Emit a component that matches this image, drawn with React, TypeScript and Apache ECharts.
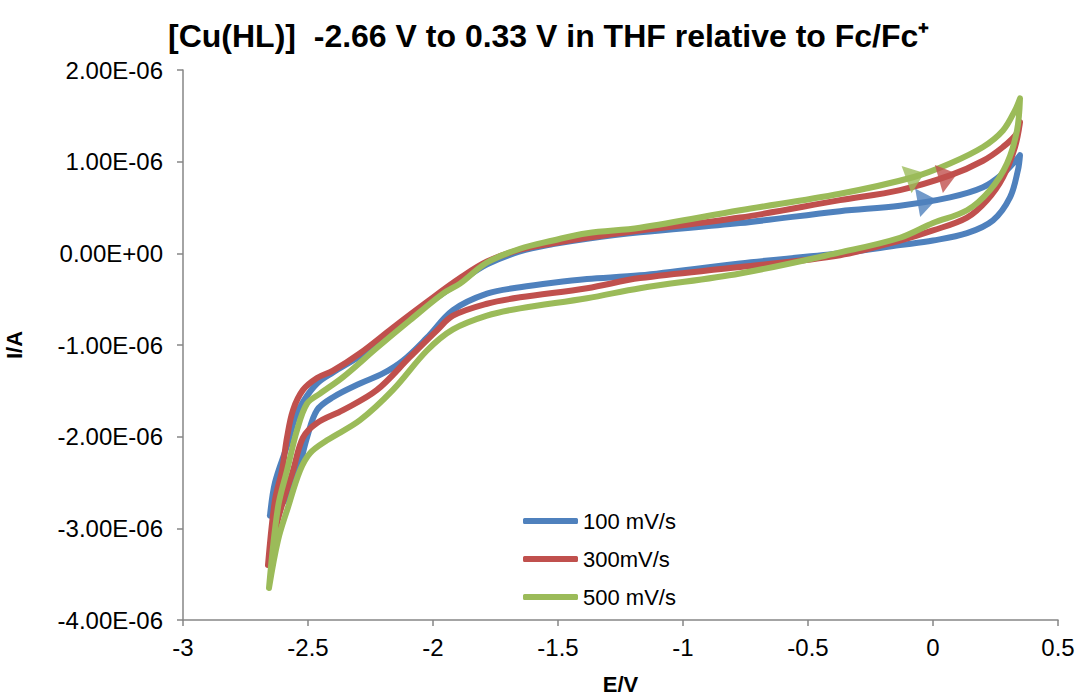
import React, { useEffect, useRef } from "react";
import * as echarts from "echarts";

// Cyclic voltammograms of [Cu(HL)] in THF, potential vs Fc/Fc+ (V), current in µA.
// Each loop starts at the cathodic limit, sweeps anodically to the upper limit and returns.

const E100 = [-2.652, -2.632, -2.584, -2.552, -2.52, -2.464, -2.4, -2.292, -2.16, -2.024, -1.892, -1.784, -1.652, -1.52, -1.384, -1.172, -0.772, -0.372, -0.132, 0.068, 0.2, 0.28, 0.336, 0.348,
  0.34, 0.308, 0.24, 0.136, 0.0, -0.132, -0.372, -0.772, -1.172, -1.384, -1.52, -1.652, -1.784, -1.92, -2.024, -2.12, -2.2, -2.292, -2.4, -2.464, -2.504, -2.54, -2.592, -2.652];
const I100 = [-2.86, -2.5, -2.1, -1.8, -1.62, -1.42, -1.3, -1.12, -0.86, -0.56, -0.31, -0.12, 0.02, 0.1, 0.16, 0.23, 0.33, 0.46, 0.52, 0.61, 0.72, 0.87, 1.03, 1.07,
  0.91, 0.61, 0.36, 0.22, 0.14, 0.09, 0.0, -0.11, -0.24, -0.28, -0.32, -0.37, -0.44, -0.62, -0.92, -1.17, -1.31, -1.42, -1.57, -1.71, -2.01, -2.37, -2.69, -2.86];

const E300 = [-2.66, -2.632, -2.604, -2.584, -2.56, -2.52, -2.464, -2.4, -2.292, -2.16, -2.024, -1.892, -1.784, -1.652, -1.52, -1.384, -1.172, -0.772, -0.372, -0.132, 0.068, 0.2, 0.28, 0.336, 0.348,
  0.328, 0.28, 0.216, 0.136, 0.0, -0.132, -0.372, -0.772, -1.172, -1.384, -1.652, -1.784, -1.92, -1.984, -2.092, -2.224, -2.36, -2.464, -2.52, -2.56, -2.62, -2.66];
const I300 = [-3.4, -2.69, -2.37, -2.01, -1.71, -1.49, -1.36, -1.28, -1.09, -0.81, -0.53, -0.27, -0.09, 0.04, 0.11, 0.17, 0.25, 0.39, 0.58, 0.69, 0.85, 1.01, 1.16, 1.31, 1.43,
  1.16, 0.83, 0.58, 0.39, 0.25, 0.14, -0.02, -0.15, -0.27, -0.38, -0.48, -0.55, -0.68, -0.84, -1.13, -1.49, -1.71, -1.85, -2.01, -2.37, -2.9, -3.4];

const E500 = [-2.656, -2.62, -2.584, -2.544, -2.504, -2.452, -2.36, -2.224, -2.092, -1.96, -1.892, -1.784, -1.652, -1.52, -1.384, -1.172, -0.772, -0.372, -0.08, 0.068, 0.2, 0.28, 0.328, 0.348,
  0.336, 0.296, 0.228, 0.136, 0.0, -0.132, -0.372, -0.772, -1.172, -1.384, -1.652, -1.784, -1.92, -2.024, -2.16, -2.292, -2.424, -2.492, -2.532, -2.58, -2.62, -2.656];
const I500 = [-3.65, -2.77, -2.37, -1.93, -1.64, -1.53, -1.35, -1.03, -0.73, -0.44, -0.33, -0.1, 0.05, 0.14, 0.22, 0.28, 0.47, 0.65, 0.83, 0.98, 1.16, 1.34, 1.56, 1.69,
  1.34, 0.98, 0.69, 0.47, 0.33, 0.17, 0.01, -0.22, -0.38, -0.49, -0.6, -0.68, -0.83, -1.06, -1.49, -1.82, -2.04, -2.18, -2.37, -2.77, -3.13, -3.65];

// Sweep-direction arrowheads on the anodic branches: [E, I, tilt in degrees]
const arrow100 = [-0.024, 0.57, 10];
const arrow300 = [0.06, 0.84, 16];
const arrow500 = [-0.07, 0.84, 20];

const seriesNames = ["100 mV/s", "300mV/s", "500 mV/s"];
const colors = ["#4F81BD", "#C0504D", "#9BBB59"];

const FONT = "'Liberation Sans', Arial, sans-serif";

const toPairs = (xs: number[], ys: number[]) => xs.map((x, i) => [x, ys[i]]);

// Formats a current in amperes like 1.00E-06
const fmtSci = (a: number) => {
  if (Math.abs(a) < 1e-15) return "0.00E+00";
  const [m, e] = a.toExponential(2).split("e");
  const n = Number(e);
  return `${m}E${n < 0 ? "-" : "+"}${String(Math.abs(n)).padStart(2, "0")}`;
};

export default function App() {
  const ref = useRef<HTMLDivElement>(null);

  useEffect(() => {
    if (!ref.current) return;
    const chart = echarts.init(ref.current, undefined, { renderer: "svg" });

    const loops = [toPairs(E100, I100), toPairs(E300, I300), toPairs(E500, I500)];
    const arrows = [arrow100, arrow300, arrow500];

    const lineSeries = loops.map((data, i) => ({
      name: seriesNames[i],
      type: "line",
      data,
      smooth: 0.35,
      symbol: "none",
      showSymbol: false,
      lineStyle: { color: colors[i], width: 6, cap: "round", join: "round" },
      itemStyle: { color: colors[i] },
      z: 2 + i,
    }));

    const arrowSeries = arrows.map((a, i) => ({
      name: "sweep " + seriesNames[i],
      type: "scatter",
      data: [[a[0], a[1]]],
      symbol: "triangle",
      symbolSize: [29, 19],
      symbolRotate: -90 + a[2],
      itemStyle: { color: colors[i] },
      z: 6,
      silent: true,
    }));

    chart.setOption({
      animation: false,
      backgroundColor: "#ffffff",
      textStyle: { fontFamily: FONT },
      title: {
        text: "[Cu(HL)]  -2.66 V to 0.33 V in THF relative to Fc/Fc\u207A",
        left: 163,
        top: 15,
        textStyle: { fontFamily: FONT, fontSize: 32, fontWeight: "bold", color: "#000" },
      },
      legend: {
        orient: "vertical",
        left: 518,
        top: 505,
        icon: "roundRect",
        itemWidth: 55,
        itemHeight: 6,
        itemGap: 16,
        data: seriesNames,
        textStyle: { fontFamily: FONT, fontSize: 22, color: "#000", padding: [0, 0, 0, 0] },
      },
      grid: { left: 183, right: 25, top: 70, bottom: 80, containLabel: false, outerBoundsMode: "none" },
      xAxis: {
        type: "value",
        min: -3,
        max: 0.5,
        interval: 0.5,
        name: "E/V",
        nameLocation: "middle",
        nameGap: 53,
        nameTextStyle: { fontFamily: FONT, fontSize: 22, fontWeight: "bold", color: "#000" },
        axisLine: { show: true, onZero: false, lineStyle: { color: "#868686", width: 1.5 } },
        axisTick: { show: true, length: 6, lineStyle: { color: "#868686", width: 1.5 } },
        axisLabel: { fontFamily: FONT, fontSize: 24, color: "#000", margin: 15 },
        splitLine: { show: false },
      },
      yAxis: {
        type: "value",
        min: -4,
        max: 2,
        interval: 1,
        name: "I/A",
        nameLocation: "middle",
        nameGap: 158,
        nameTextStyle: { fontFamily: FONT, fontSize: 22, fontWeight: "bold", color: "#000" },
        axisLine: { show: true, onZero: false, lineStyle: { color: "#868686", width: 1.5 } },
        axisTick: { show: true, length: 6, lineStyle: { color: "#868686", width: 1.5 } },
        axisLabel: {
          fontFamily: FONT,
          fontSize: 24,
          color: "#000",
          margin: 20,
          formatter: (v: number) => fmtSci(v * 1e-6),
        },
        splitLine: { show: false },
      },
      series: [...lineSeries, ...arrowSeries],
    });

    return () => chart.dispose();
  }, []);

  return (
    <div
      ref={ref}
      style={{ position: "absolute", left: 0, top: 0, width: 1083, height: 700 }}
    />
  );
}
